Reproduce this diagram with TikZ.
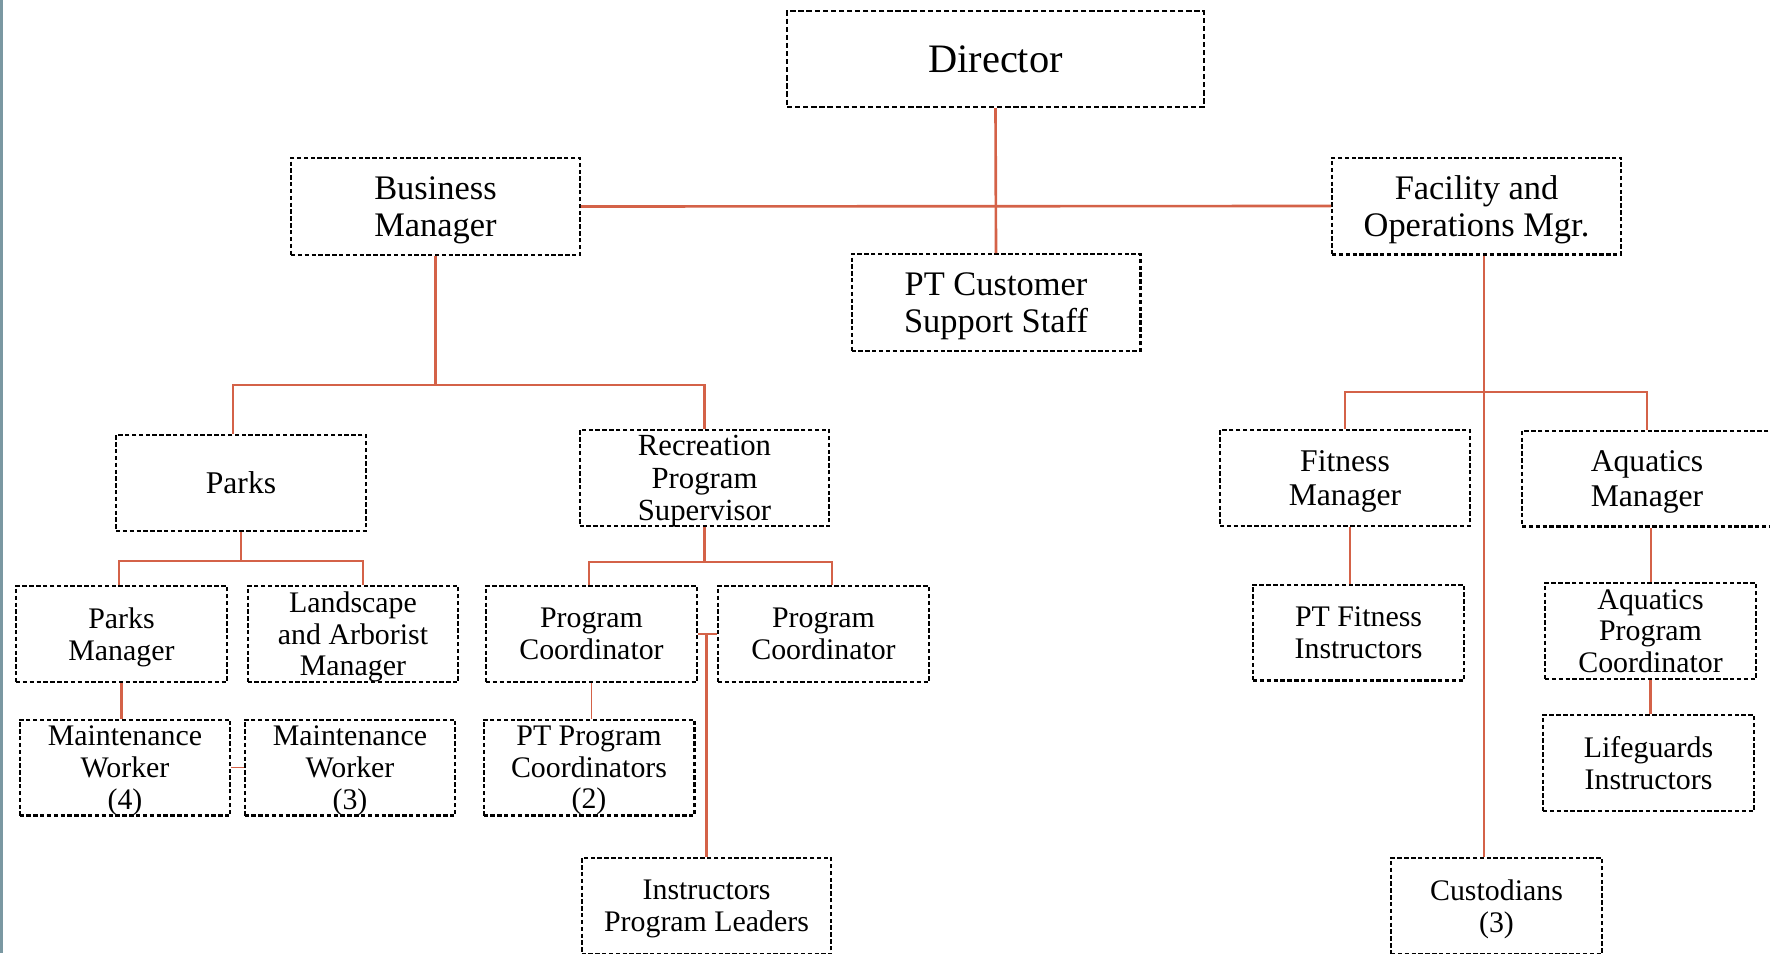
\documentclass[tikz,border=0pt]{standalone}
\usepackage{fontspec}
\setmainfont{Liberation Serif}
\usetikzlibrary{positioning}

\definecolor{linkred}{RGB}{212,98,72}
\definecolor{edgegrey}{RGB}{122,152,162}

\begin{document}
\begin{tikzpicture}[
  x=0.02cm, y=-0.02cm,
  unit/.style={rectangle, draw, line width=1.15pt, dash pattern=on 2.5pt off 1.4pt, inner sep=0pt, align=center},
  chief/.style={unit, line width=1.4pt, dash pattern=on 3pt off 1.6pt, minimum width=8.34cm, minimum height=1.92cm, font=\fontsize{23}{26}\selectfont},
  head/.style={unit, minimum width=5.78cm, minimum height=1.94cm, text depth=0pt, font=\fontsize{19.6}{21.5}\selectfont},
  post/.style={unit, minimum width=5.0cm, minimum height=1.92cm, font=\fontsize{18}{19.8}\selectfont},
  dept/.style={post, text depth=0pt},
  staff/.style={unit, minimum width=4.22cm, minimum height=1.92cm, text depth=0pt, font=\fontsize{17}{18}\selectfont},
  link/.style={draw=linkred, line width=1.5pt},
  thin/.style={draw=linkred, line width=1.1pt}
]
\useasboundingbox (0,0) rectangle (1770,953);
\fill[edgegrey] (0,0) rectangle (2.5,953);

% Top
\node[chief] (Director) at (995.5,59) {Director};
\node[head] (Business) at (435.5,206.5) {Business\\Manager};
\node[head] (Facility) at (1476.5,206) {Facility and\\Operations Mgr.};
\node[head] (Support) at (996,302.5) {PT Customer\\Support Staff};

% Business side
\node[post] (Parks) at (241,483) {Parks};
\node[dept, font=\fontsize{17.5}{18.6}\selectfont] (RecSup) at (704.5,478) {Recreation\\Program\\Supervisor};
\node[staff] (ParksMgr) at (121.5,634) {Parks\\Manager};
\node[staff] (Landscape) at (353,634) {Landscape\\and Arborist\\Manager};
\node[staff] (MaintA) at (125,767.5) {Maintenance\\Worker\\(4)};
\node[staff] (MaintB) at (350,767.5) {Maintenance\\Worker\\(3)};
\node[staff] (ProgA) at (591.5,634) {Program\\Coordinator};
\node[staff] (ProgB) at (823.5,634) {Program\\Coordinator};
\node[staff] (PTProg) at (589,767.5) {PT Program\\Coordinators\\(2)};
\node[dept, font=\fontsize{17}{18}\selectfont] (Leaders) at (706.5,906) {Instructors\\Program Leaders};

% Facility side
\node[dept] (Fitness) at (1345,478) {Fitness\\Manager};
\node[dept] (Aquatics) at (1647,478.5) {Aquatics\\Manager};
\node[staff] (PTFit) at (1358.5,632.5) {PT Fitness\\Instructors};
\node[staff] (AquaProg) at (1650.5,631) {Aquatics\\Program\\Coordinator};
\node[staff] (Lifeguards) at (1648.5,763) {Lifeguards\\Instructors};
\node[staff] (Custodians) at (1496.5,906) {Custodians\\(3)};

% Director level
\draw[link] (Director.south) -- (Support.north);
\draw[link] (Business.east) -- (Facility.west);

% Business Manager -> Parks, Recreation
\draw[link] (Business.south) -- ++(0,129) -| ([xshift=-0.16cm]Parks.north);
\draw[link] (Business.south) -- ++(0,129) -| (RecSup.north);

% Parks
\draw[thin] (Parks.south) -- ++(0,29) -| ([xshift=-0.05cm]ParksMgr.north);
\draw[thin] (Parks.south) -- ++(0,29) -| ([xshift=0.2cm]Landscape.north);
\draw[link] (ParksMgr.south) -- (ParksMgr.south |- MaintA.north);
\draw[thin] (MaintA.east) -- (MaintB.west);

% Recreation
\draw[link] (RecSup.south) -- ++(0,35) -| ([xshift=-0.05cm]ProgA.north);
\draw[link] (RecSup.south) -- ++(0,35) -| ([xshift=0.17cm]ProgB.north);
\draw[thin] (ProgA.south) -- (ProgA.south |- PTProg.north);
\draw[link] (ProgA.east) -- (ProgB.west);
\draw[link] (Leaders.north) -- (Leaders.north |- ProgA.east);

% Facility
\draw[thin] ([xshift=0.15cm]Facility.south) -- ([xshift=0.15cm]Facility.south |- Custodians.north);
\draw[thin] (Fitness.north) -- ++(0,-37) -| (Aquatics.north);
\draw[thin] ([xshift=0.1cm]Fitness.south) -- ([xshift=0.1cm]Fitness.south |- PTFit.north);
\draw[thin] ([xshift=0.08cm]Aquatics.south) -- ([xshift=0.08cm]Aquatics.south |- AquaProg.north);
\draw[link] (AquaProg.south) -- (AquaProg.south |- Lifeguards.north);

\end{tikzpicture}
\end{document}
